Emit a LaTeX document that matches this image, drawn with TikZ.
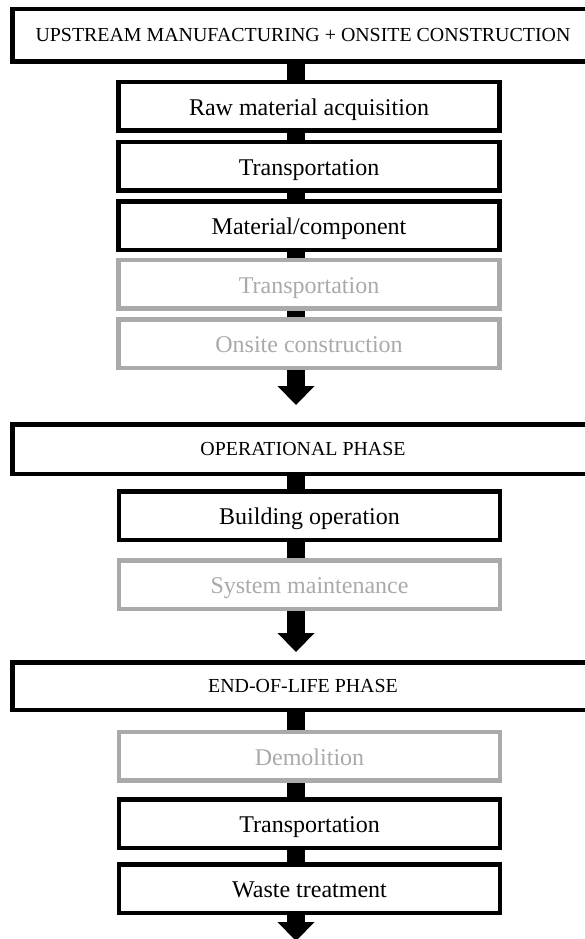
\documentclass[tikz,border=0pt]{standalone}
\usepackage{fontspec}
\setmainfont{Liberation Serif}
\usetikzlibrary{arrows.meta,backgrounds}
\definecolor{lightgr}{RGB}{170,170,170}
\begin{document}
\begin{tikzpicture}[x=1pt,y=-1pt,
  phasebox/.style={draw=black, line width=4.5pt, fill=white, minimum width=581.5pt,
    minimum height=49pt, inner sep=0pt, font=\fontsize{19.9}{24}\selectfont},
  stagebox/.style={draw=black, line width=4.5pt, fill=white, minimum width=381pt,
    minimum height=48.5pt, inner sep=0pt, text height=18pt, text depth=0pt,
    font=\fontsize{24}{28}\selectfont},
  greybox/.style={stagebox, draw=lightgr, text=lightgr},
  bar/.style={line width=18pt, black},
  bigarrow/.style={line width=18pt, black, -{Triangle[width=37pt,length=19pt,line width=0pt]}}]
\useasboundingbox (0,0) rectangle (585,939);
\clip (0,0) rectangle (585,939);
% upstream
\node[phasebox, minimum height=52.5pt] (up) at (303,35.5) {UPSTREAM MANUFACTURING + ONSITE CONSTRUCTION};
\node[stagebox] (raw) at (309,106.5) {Raw material acquisition};
\node[stagebox] (tr1) at (309,166) {Transportation};
\node[stagebox] (mat) at (309,225.5) {Material/component};
\node[greybox] (tr2) at (309,284) {Transportation};
\node[greybox] (ons) at (309,343.5) {Onsite construction};
% operational
\node[phasebox, minimum height=49.5pt] (op) at (303,449) {OPERATIONAL PHASE};
\node[stagebox] (bld) at (309.5,515.5) {Building operation};
\node[greybox] (sys) at (309.5,584.5) {System maintenance};
% end of life
\node[phasebox, minimum height=47.5pt] (eol) at (303,686) {END-OF-LIFE PHASE};
\node[greybox] (dem) at (309.5,756) {Demolition};
\node[stagebox] (tr3) at (309.5,823.5) {Transportation};
\node[stagebox] (wst) at (309.5,888.5) {Waste treatment};
% axis and arrow ends
\coordinate (ax) at (296,0);
\coordinate (e1) at (296,405);
\coordinate (e2) at (296,652);
\coordinate (e3) at (296,941);
\begin{scope}[on background layer]
  \draw[bar] (up.south -| ax) -- (raw.north -| ax);
  \draw[bar] (raw.south -| ax) -- (tr1.north -| ax);
  \draw[bar] (tr1.south -| ax) -- (mat.north -| ax);
  \draw[bar] (mat.south -| ax) -- (tr2.north -| ax);
  \draw[bar] (tr2.south -| ax) -- (ons.north -| ax);
  \draw[bigarrow] (ons.south -| ax) -- (e1);
  \draw[bar] (op.south -| ax) -- (bld.north -| ax);
  \draw[bar] (bld.south -| ax) -- (sys.north -| ax);
  \draw[bigarrow] (sys.south -| ax) -- (e2);
  \draw[bar] (eol.south -| ax) -- (dem.north -| ax);
  \draw[bar] (dem.south -| ax) -- (tr3.north -| ax);
  \draw[bar] (tr3.south -| ax) -- (wst.north -| ax);
  \draw[bigarrow] (wst.south -| ax) -- (e3);
\end{scope}
\end{tikzpicture}
\end{document}
